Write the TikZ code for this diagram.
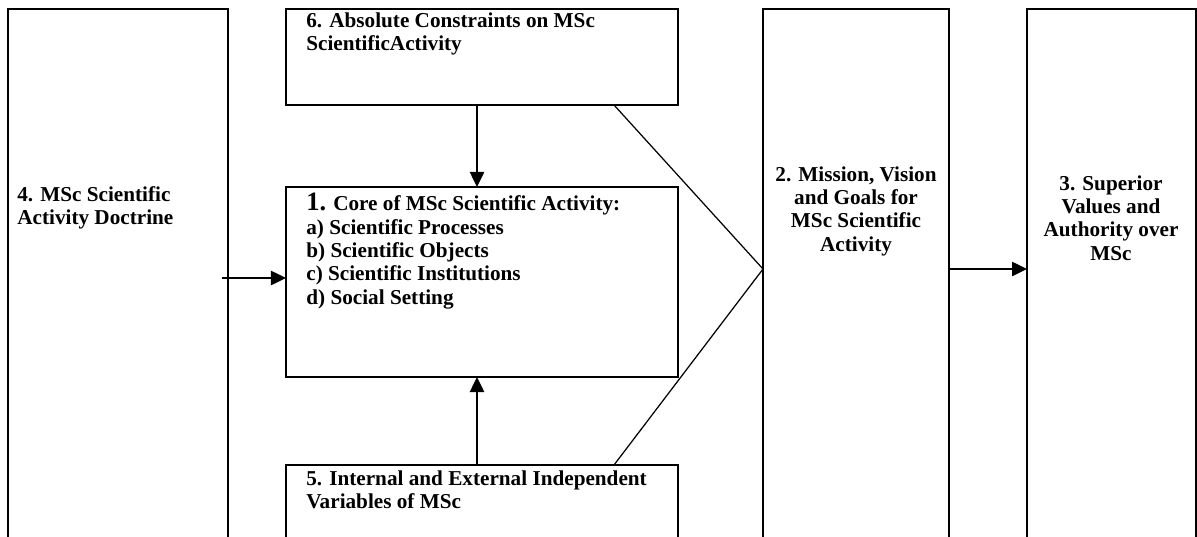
\documentclass[tikz,border=0pt]{standalone}
\usepackage{fontspec}
\setmainfont{Liberation Serif}
\usetikzlibrary{arrows.meta,positioning}

\def\u{0.566pt}

\tikzset{
  blk/.style={draw, line width=0.85pt, anchor=north west, outer sep=0pt, inner sep=0pt},
  lbl/.style={font=\bfseries\fontsize{12}{13.2}\selectfont, inner sep=0pt},
  arr/.style={line width=1.2pt, -{Triangle[length=8.5pt,width=8pt]}},
}

\begin{document}
\begin{tikzpicture}[x=0.566pt,y=-0.566pt]

\clip (0,0) rectangle (1197,536);

% the six blocks
\node [blk, minimum width=220*\u, minimum height=560*\u] (doctrine) at (8,9) {};
\node [blk, minimum width=392*\u, minimum height=96*\u] (constraints) at (286,9) {};
\node [blk, minimum width=392*\u, minimum height=190*\u] (core) at (286,187) {};
\node [blk, minimum width=392*\u, minimum height=100*\u] (variables) at (286,465) {};
\node [blk, minimum width=186*\u, minimum height=560*\u] (mission) at (763,9) {};
\node [blk, minimum width=169*\u, minimum height=560*\u] (values) at (1027,9) {};

% texts
\node [lbl, anchor=north west, align=left] (doctrine-text) at (17,186)
  {4. MSc Scientific\\Activity Doctrine};
\node [lbl, anchor=north west, align=left] (constraints-text) at (306,12)
  {6. Absolute Constraints on MSc\\ScientificActivity};
\node [lbl, anchor=north west, align=left] (core-text) at (306,193)
  {{\fontsize{15}{15}\selectfont 1.} Core of MSc Scientific Activity:\\
   a) Scientific Processes\\
   b) Scientific Objects\\
   c) Scientific Institutions\\
   d) Social Setting};
\node [lbl, anchor=north west, align=left] (variables-text) at (306,470)
  {5. Internal and External Independent\\Variables of MSc};
\node [lbl, anchor=north, align=center] (mission-text) at (856,166)
  {2. Mission, Vision\\and Goals for\\MSc Scientific\\Activity};
\node [lbl, anchor=north, align=center] (values-text) at (1111,175)
  {3. Superior\\Values and\\Authority over\\MSc};

% connectors
\path (mission.west) ++(0,-20) coordinate (apex);

\draw [arr] ([xshift=-6*\u, yshift=4*\u]doctrine.east |- core.west) -- ([yshift=4*\u]core.west);
\draw [arr] ([xshift=-5*\u]constraints.south) -- ([xshift=-5*\u]core.north);
\draw [arr] ([xshift=-5*\u]variables.north) -- ([xshift=-5*\u]core.south);
\draw [line width=0.7pt] ([xshift=-64*\u]constraints.south east) -- (apex)
  -- ([xshift=-64*\u]variables.north east);
\draw [arr] (apex -| mission.east) -- (apex -| values.west);

\end{tikzpicture}
\end{document}
